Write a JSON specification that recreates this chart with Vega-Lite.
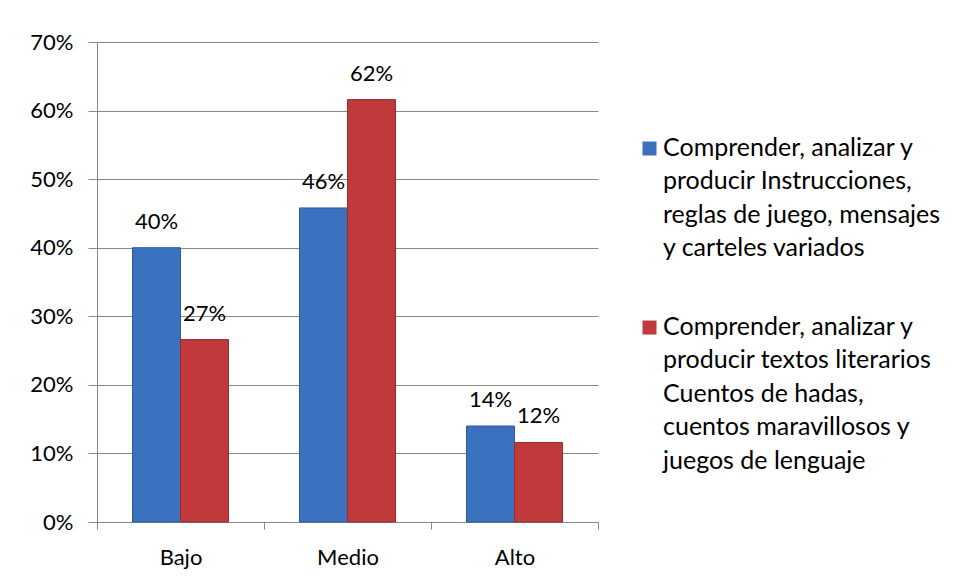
{
  "$schema": "https://vega.github.io/schema/vega-lite/v6.json",
  "autosize": "none",
  "width": 501,
  "height": 480,
  "padding": {"left": 97, "top": 42, "right": 359, "bottom": 58},
  "background": "white",
  "config": {
    "font": "Lato",
    "view": {"stroke": null},
    "style": {"guide-label": {"lineHeight": 33.5}}
  },
  "data": {
    "values": [
      {"nivel": "Bajo", "serie": "A", "valor": 0.40},
      {"nivel": "Bajo", "serie": "B", "valor": 0.266},
      {"nivel": "Medio", "serie": "A", "valor": 0.458},
      {"nivel": "Medio", "serie": "B", "valor": 0.616},
      {"nivel": "Alto", "serie": "A", "valor": 0.14},
      {"nivel": "Alto", "serie": "B", "valor": 0.116}
    ]
  },
  "encoding": {
    "x": {
      "field": "nivel", "type": "nominal", "sort": ["Bajo", "Medio", "Alto"],
      "scale": {"paddingInner": 0, "paddingOuter": 0},
      "axis": {
        "title": null, "labelAngle": 0, "tickBand": "extent",
        "labelFontSize": 22, "labelColor": "#000", "labelPadding": 18,
        "domainColor": "#888", "tickColor": "#888", "tickSize": 7
      }
    },
    "xOffset": {
      "field": "serie", "type": "nominal",
      "scale": {"paddingOuter": 0.74, "paddingInner": 0}
    },
    "y": {
      "field": "valor", "type": "quantitative",
      "scale": {"domain": [0, 0.7]},
      "axis": {
        "title": null, "format": ".0%", "values": [0, 0.1, 0.2, 0.3, 0.4, 0.5, 0.6, 0.7],
        "labelFontSize": 22, "labelColor": "#000", "labelPadding": 15,
        "gridColor": "#888", "domainColor": "#888", "tickColor": "#888", "tickSize": 9
      }
    }
  },
  "layer": [
    {
      "mark": {"type": "bar", "strokeWidth": 1},
      "encoding": {
        "color": {
          "field": "serie", "type": "nominal",
          "scale": {"domain": ["A", "B"], "range": ["#3A72C0", "#C0393B"]},
          "legend": {
            "title": null, "orient": "none", "legendX": 540, "legendY": 81,
            "symbolType": "M-1,0.86H1V2.86H-1Z", "symbolSize": 196, "symbolStrokeWidth": 0, "labelFontSize": 25,
            "labelColor": "#000", "labelBaseline": "top", "labelOffset": 1,
            "rowPadding": 41, "labelLimit": 400,
            "labelExpr": "datum.value == 'A' ? ['Comprender, analizar y', 'producir Instrucciones,', 'reglas de juego, mensajes', 'y carteles variados'] : ['Comprender, analizar y', 'producir textos literarios', 'Cuentos de hadas,', 'cuentos maravillosos y', 'juegos de lenguaje']"
          }
        },
        "stroke": {
          "field": "serie", "type": "nominal",
          "scale": {"domain": ["A", "B"], "range": ["#2C5A99", "#9A2C2E"]},
          "legend": null
        }
      }
    },
    {
      "mark": {"type": "text", "baseline": "alphabetic", "dy": -19, "fontSize": 22, "color": "#000"},
      "encoding": {
        "text": {"field": "valor", "type": "quantitative", "format": ".0%"}
      }
    }
  ]
}
